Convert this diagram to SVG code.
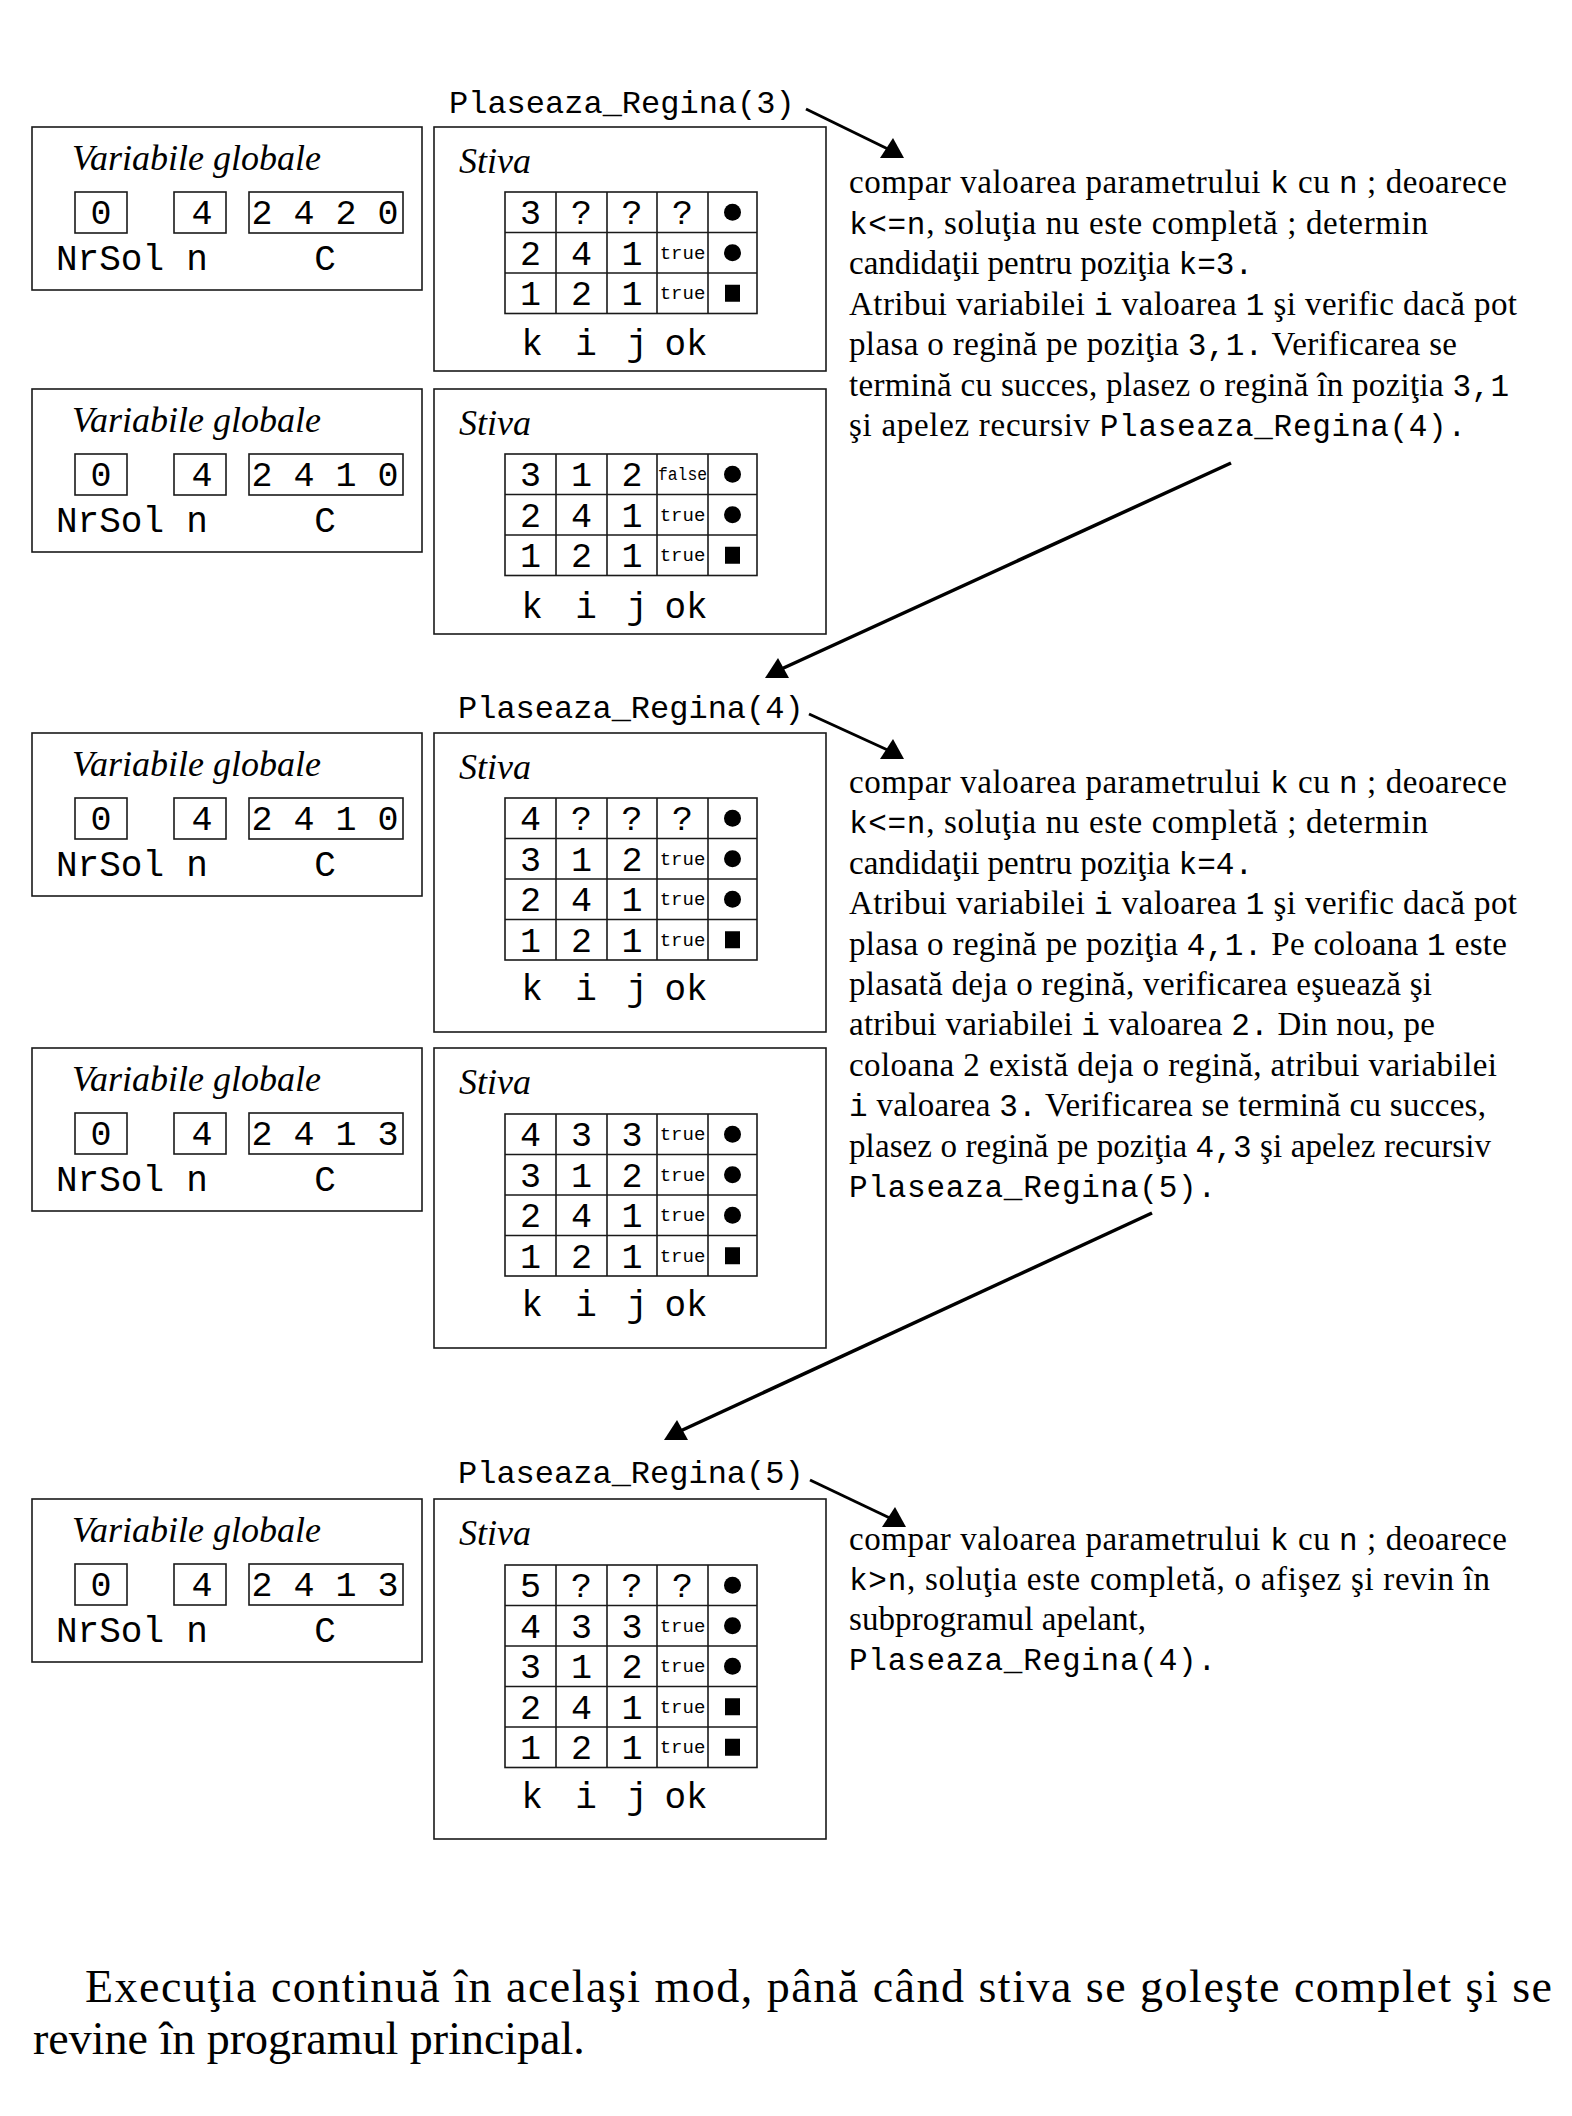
<svg xmlns="http://www.w3.org/2000/svg" width="1572" height="2116" viewBox="0 0 1572 2116">
<style>
.bg{fill:#fff}
.box{fill:none;stroke:#1a1a1a;stroke-width:1.6}
.grid{fill:none;stroke:#1a1a1a;stroke-width:1.6}
.it{font-family:"Liberation Serif",serif;font-style:italic;font-size:36px;fill:#000}
.mono{font-family:"Liberation Mono",monospace;fill:#000}
.dg{font-size:35px;text-anchor:middle}
.lbl{font-size:36px}
.ctr{text-anchor:middle}
.tr{font-size:19px;text-anchor:middle}
.call{font-size:32px}
.body{font-family:"Liberation Serif",serif;font-size:33px;fill:#000}
.m{font-family:"Liberation Mono",monospace;font-size:31px}
.para{font-family:"Liberation Serif",serif;font-size:46px;fill:#000}
.dot{fill:#000}
.arr{fill:none;stroke:#000;stroke-width:3;marker-end:url(#ah)}
.arr2{fill:none;stroke:#000;stroke-width:3.5;marker-end:url(#ah)}
</style>
<defs>
<marker id="ah" markerUnits="userSpaceOnUse" markerWidth="26" markerHeight="22" refX="12" refY="13" orient="0">
<path d="M0,20 L24,20 L13,0 Z" fill="#000"/>
</marker>
</defs>
<rect class="bg" x="0" y="0" width="1572" height="2116"/>

<!-- Panel 1 -->
<g id="panel1" transform="translate(0,127)">
 <g id="vars1">
  <rect class="box" x="32" y="0" width="390" height="163"/>
  <text class="it" x="72" y="43">Variabile globale</text>
  <rect class="box" x="75" y="65" width="52" height="41"/>
  <rect class="box" x="174" y="65" width="52" height="41"/>
  <rect class="box" x="249" y="65" width="154" height="41"/>
  <text class="mono dg" x="101" y="97">0</text>
  <text class="mono dg" x="202" y="97">4</text>
  <text class="mono dg" x="325" y="97">2 4 2 0</text>
  <text class="mono lbl" x="56" y="143">NrSol</text>
  <text class="mono lbl ctr" x="197" y="143">n</text>
  <text class="mono lbl ctr" x="325" y="143">C</text>
 </g>
 <g id="stack1">
  <rect class="box" x="434" y="0" width="392" height="244"/>
  <text class="it" x="459" y="46">Stiva</text>
  <rect class="grid" x="505" y="65" width="252" height="121.5"/>
  <path class="grid" d="M556 65V186.5M607 65V186.5M657 65V186.5M708 65V186.5M505 105.5H757M505 146H757"/>
  <text class="mono dg" x="530.5" y="97">3</text><text class="mono dg" x="581.5" y="97">?</text><text class="mono dg" x="632" y="97">?</text><text class="mono dg" x="682.5" y="97">?</text><circle class="dot" cx="732.5" cy="85.25" r="8.5"/>
  <text class="mono dg" x="530.5" y="137.5">2</text><text class="mono dg" x="581.5" y="137.5">4</text><text class="mono dg" x="632" y="137.5">1</text><text class="mono tr" x="682.5" y="131.5">true</text><circle class="dot" cx="732.5" cy="125.75" r="8.5"/>
  <text class="mono dg" x="530.5" y="178">1</text><text class="mono dg" x="581.5" y="178">2</text><text class="mono dg" x="632" y="178">1</text><text class="mono tr" x="682.5" y="172">true</text><rect class="dot" x="725" y="157.75" width="15" height="17"/>
  <text class="mono lbl ctr" x="532" y="228">k</text><text class="mono lbl ctr" x="586" y="228">i</text><text class="mono lbl ctr" x="637" y="228">j</text><text class="mono lbl ctr" x="686" y="228">ok</text>
 </g>
</g>

<!-- Panel 2 -->
<g id="panel2" transform="translate(0,389)">
 <g id="vars2">
  <rect class="box" x="32" y="0" width="390" height="163"/>
  <text class="it" x="72" y="43">Variabile globale</text>
  <rect class="box" x="75" y="65" width="52" height="41"/>
  <rect class="box" x="174" y="65" width="52" height="41"/>
  <rect class="box" x="249" y="65" width="154" height="41"/>
  <text class="mono dg" x="101" y="97">0</text>
  <text class="mono dg" x="202" y="97">4</text>
  <text class="mono dg" x="325" y="97">2 4 1 0</text>
  <text class="mono lbl" x="56" y="143">NrSol</text>
  <text class="mono lbl ctr" x="197" y="143">n</text>
  <text class="mono lbl ctr" x="325" y="143">C</text>
 </g>
 <g id="stack2">
  <rect class="box" x="434" y="0" width="392" height="245"/>
  <text class="it" x="459" y="46">Stiva</text>
  <rect class="grid" x="505" y="65" width="252" height="121.5"/>
  <path class="grid" d="M556 65V186.5M607 65V186.5M657 65V186.5M708 65V186.5M505 105.5H757M505 146H757"/>
  <text class="mono dg" x="530.5" y="97">3</text><text class="mono dg" x="581.5" y="97">1</text><text class="mono dg" x="632" y="97">2</text><text class="mono tr" x="682.5" y="91" textLength="49" lengthAdjust="spacingAndGlyphs">false</text><circle class="dot" cx="732.5" cy="85.25" r="8.5"/>
  <text class="mono dg" x="530.5" y="137.5">2</text><text class="mono dg" x="581.5" y="137.5">4</text><text class="mono dg" x="632" y="137.5">1</text><text class="mono tr" x="682.5" y="131.5">true</text><circle class="dot" cx="732.5" cy="125.75" r="8.5"/>
  <text class="mono dg" x="530.5" y="178">1</text><text class="mono dg" x="581.5" y="178">2</text><text class="mono dg" x="632" y="178">1</text><text class="mono tr" x="682.5" y="172">true</text><rect class="dot" x="725" y="157.75" width="15" height="17"/>
  <text class="mono lbl ctr" x="532" y="229">k</text><text class="mono lbl ctr" x="586" y="229">i</text><text class="mono lbl ctr" x="637" y="229">j</text><text class="mono lbl ctr" x="686" y="229">ok</text>
 </g>
</g>

<!-- Panel 3 -->
<g id="panel3" transform="translate(0,733)">
 <g id="vars3">
  <rect class="box" x="32" y="0" width="390" height="163"/>
  <text class="it" x="72" y="43">Variabile globale</text>
  <rect class="box" x="75" y="65" width="52" height="41"/>
  <rect class="box" x="174" y="65" width="52" height="41"/>
  <rect class="box" x="249" y="65" width="154" height="41"/>
  <text class="mono dg" x="101" y="97">0</text>
  <text class="mono dg" x="202" y="97">4</text>
  <text class="mono dg" x="325" y="97">2 4 1 0</text>
  <text class="mono lbl" x="56" y="143">NrSol</text>
  <text class="mono lbl ctr" x="197" y="143">n</text>
  <text class="mono lbl ctr" x="325" y="143">C</text>
 </g>
 <g id="stack3">
  <rect class="box" x="434" y="0" width="392" height="299"/>
  <text class="it" x="459" y="46">Stiva</text>
  <rect class="grid" x="505" y="65" width="252" height="162"/>
  <path class="grid" d="M556 65V227M607 65V227M657 65V227M708 65V227M505 105.5H757M505 146H757M505 186.5H757"/>
  <text class="mono dg" x="530.5" y="97">4</text><text class="mono dg" x="581.5" y="97">?</text><text class="mono dg" x="632" y="97">?</text><text class="mono dg" x="682.5" y="97">?</text><circle class="dot" cx="732.5" cy="85.25" r="8.5"/>
  <text class="mono dg" x="530.5" y="137.5">3</text><text class="mono dg" x="581.5" y="137.5">1</text><text class="mono dg" x="632" y="137.5">2</text><text class="mono tr" x="682.5" y="131.5">true</text><circle class="dot" cx="732.5" cy="125.75" r="8.5"/>
  <text class="mono dg" x="530.5" y="178">2</text><text class="mono dg" x="581.5" y="178">4</text><text class="mono dg" x="632" y="178">1</text><text class="mono tr" x="682.5" y="172">true</text><circle class="dot" cx="732.5" cy="166.25" r="8.5"/>
  <text class="mono dg" x="530.5" y="218.5">1</text><text class="mono dg" x="581.5" y="218.5">2</text><text class="mono dg" x="632" y="218.5">1</text><text class="mono tr" x="682.5" y="212.5">true</text><rect class="dot" x="725" y="198.25" width="15" height="17"/>
  <text class="mono lbl ctr" x="532" y="267">k</text><text class="mono lbl ctr" x="586" y="267">i</text><text class="mono lbl ctr" x="637" y="267">j</text><text class="mono lbl ctr" x="686" y="267">ok</text>
 </g>
</g>

<!-- Panel 4 -->
<g id="panel4" transform="translate(0,1048)">
 <g id="vars4">
  <rect class="box" x="32" y="0" width="390" height="163"/>
  <text class="it" x="72" y="43">Variabile globale</text>
  <rect class="box" x="75" y="65" width="52" height="41"/>
  <rect class="box" x="174" y="65" width="52" height="41"/>
  <rect class="box" x="249" y="65" width="154" height="41"/>
  <text class="mono dg" x="101" y="97">0</text>
  <text class="mono dg" x="202" y="97">4</text>
  <text class="mono dg" x="325" y="97">2 4 1 3</text>
  <text class="mono lbl" x="56" y="143">NrSol</text>
  <text class="mono lbl ctr" x="197" y="143">n</text>
  <text class="mono lbl ctr" x="325" y="143">C</text>
 </g>
 <g id="stack4">
  <rect class="box" x="434" y="0" width="392" height="300"/>
  <text class="it" x="459" y="46">Stiva</text>
  <rect class="grid" x="505" y="66" width="252" height="162"/>
  <path class="grid" d="M556 66V228M607 66V228M657 66V228M708 66V228M505 106.5H757M505 147H757M505 187.5H757"/>
  <text class="mono dg" x="530.5" y="98">4</text><text class="mono dg" x="581.5" y="98">3</text><text class="mono dg" x="632" y="98">3</text><text class="mono tr" x="682.5" y="92">true</text><circle class="dot" cx="732.5" cy="86.25" r="8.5"/>
  <text class="mono dg" x="530.5" y="138.5">3</text><text class="mono dg" x="581.5" y="138.5">1</text><text class="mono dg" x="632" y="138.5">2</text><text class="mono tr" x="682.5" y="132.5">true</text><circle class="dot" cx="732.5" cy="126.75" r="8.5"/>
  <text class="mono dg" x="530.5" y="179">2</text><text class="mono dg" x="581.5" y="179">4</text><text class="mono dg" x="632" y="179">1</text><text class="mono tr" x="682.5" y="173">true</text><circle class="dot" cx="732.5" cy="167.25" r="8.5"/>
  <text class="mono dg" x="530.5" y="219.5">1</text><text class="mono dg" x="581.5" y="219.5">2</text><text class="mono dg" x="632" y="219.5">1</text><text class="mono tr" x="682.5" y="213.5">true</text><rect class="dot" x="725" y="199.25" width="15" height="17"/>
  <text class="mono lbl ctr" x="532" y="268">k</text><text class="mono lbl ctr" x="586" y="268">i</text><text class="mono lbl ctr" x="637" y="268">j</text><text class="mono lbl ctr" x="686" y="268">ok</text>
 </g>
</g>

<!-- Panel 5 -->
<g id="panel5" transform="translate(0,1499)">
 <g id="vars5">
  <rect class="box" x="32" y="0" width="390" height="163"/>
  <text class="it" x="72" y="43">Variabile globale</text>
  <rect class="box" x="75" y="65" width="52" height="41"/>
  <rect class="box" x="174" y="65" width="52" height="41"/>
  <rect class="box" x="249" y="65" width="154" height="41"/>
  <text class="mono dg" x="101" y="97">0</text>
  <text class="mono dg" x="202" y="97">4</text>
  <text class="mono dg" x="325" y="97">2 4 1 3</text>
  <text class="mono lbl" x="56" y="143">NrSol</text>
  <text class="mono lbl ctr" x="197" y="143">n</text>
  <text class="mono lbl ctr" x="325" y="143">C</text>
 </g>
 <g id="stack5">
  <rect class="box" x="434" y="0" width="392" height="340"/>
  <text class="it" x="459" y="46">Stiva</text>
  <rect class="grid" x="505" y="66" width="252" height="202.5"/>
  <path class="grid" d="M556 66V268.5M607 66V268.5M657 66V268.5M708 66V268.5M505 106.5H757M505 147H757M505 187.5H757M505 228H757"/>
  <text class="mono dg" x="530.5" y="98">5</text><text class="mono dg" x="581.5" y="98">?</text><text class="mono dg" x="632" y="98">?</text><text class="mono dg" x="682.5" y="98">?</text><circle class="dot" cx="732.5" cy="86.25" r="8.5"/>
  <text class="mono dg" x="530.5" y="138.5">4</text><text class="mono dg" x="581.5" y="138.5">3</text><text class="mono dg" x="632" y="138.5">3</text><text class="mono tr" x="682.5" y="132.5">true</text><circle class="dot" cx="732.5" cy="126.75" r="8.5"/>
  <text class="mono dg" x="530.5" y="179">3</text><text class="mono dg" x="581.5" y="179">1</text><text class="mono dg" x="632" y="179">2</text><text class="mono tr" x="682.5" y="173">true</text><circle class="dot" cx="732.5" cy="167.25" r="8.5"/>
  <text class="mono dg" x="530.5" y="219.5">2</text><text class="mono dg" x="581.5" y="219.5">4</text><text class="mono dg" x="632" y="219.5">1</text><text class="mono tr" x="682.5" y="213.5">true</text><rect class="dot" x="725" y="199.25" width="15" height="17"/>
  <text class="mono dg" x="530.5" y="260">1</text><text class="mono dg" x="581.5" y="260">2</text><text class="mono dg" x="632" y="260">1</text><text class="mono tr" x="682.5" y="254">true</text><rect class="dot" x="725" y="239.75" width="15" height="17"/>
  <text class="mono lbl ctr" x="532" y="309">k</text><text class="mono lbl ctr" x="586" y="309">i</text><text class="mono lbl ctr" x="637" y="309">j</text><text class="mono lbl ctr" x="686" y="309">ok</text>
 </g>
</g>

<!-- Call labels -->
<g id="calls">
 <text class="mono call" x="449" y="113">Plaseaza_Regina(3)</text>
 <text class="mono call" x="458" y="718">Plaseaza_Regina(4)</text>
 <text class="mono call" x="458" y="1483">Plaseaza_Regina(5)</text>
</g>

<!-- Explanations -->
<g id="text1">
 <text class="body" x="849" y="193" textLength="658" lengthAdjust="spacing">compar valoarea parametrului <tspan class="m">k</tspan> cu <tspan class="m">n</tspan> ;  deoarece</text>
 <text class="body" x="849" y="233.5" textLength="579" lengthAdjust="spacing"><tspan class="m">k&lt;=n</tspan>, soluţia nu este completă ;  determin</text>
 <text class="body" x="849" y="274" textLength="404" lengthAdjust="spacing">candidaţii pentru poziţia <tspan class="m">k=3.</tspan></text>
 <text class="body" x="849" y="314.5" textLength="668" lengthAdjust="spacing">Atribui variabilei <tspan class="m">i</tspan> valoarea <tspan class="m">1</tspan> şi verific dacă pot</text>
 <text class="body" x="849" y="355" textLength="608" lengthAdjust="spacing">plasa o regină pe poziţia <tspan class="m">3,1.</tspan>  Verificarea se</text>
 <text class="body" x="849" y="395.5" textLength="660" lengthAdjust="spacing">termină cu succes, plasez o regină în poziţia <tspan class="m">3,1</tspan></text>
 <text class="body" x="849" y="436" textLength="617" lengthAdjust="spacing">şi apelez recursiv <tspan class="m">Plaseaza_Regina(4).</tspan></text>
</g>
<g id="text3">
 <text class="body" x="849" y="793" textLength="658" lengthAdjust="spacing">compar valoarea parametrului <tspan class="m">k</tspan> cu <tspan class="m">n</tspan> ;  deoarece</text>
 <text class="body" x="849" y="833.4" textLength="579" lengthAdjust="spacing"><tspan class="m">k&lt;=n</tspan>, soluţia nu este completă ;  determin</text>
 <text class="body" x="849" y="873.8" textLength="404" lengthAdjust="spacing">candidaţii pentru poziţia <tspan class="m">k=4.</tspan></text>
 <text class="body" x="849" y="914.2" textLength="668" lengthAdjust="spacing">Atribui variabilei <tspan class="m">i</tspan> valoarea <tspan class="m">1</tspan> şi verific dacă pot</text>
 <text class="body" x="849" y="954.6" textLength="658" lengthAdjust="spacing">plasa o regină pe poziţia <tspan class="m">4,1.</tspan>  Pe coloana <tspan class="m">1</tspan> este</text>
 <text class="body" x="849" y="995" textLength="583" lengthAdjust="spacing">plasată deja o regină, verificarea eşuează şi</text>
 <text class="body" x="849" y="1035.4" textLength="586" lengthAdjust="spacing">atribui variabilei <tspan class="m">i</tspan> valoarea <tspan class="m">2.</tspan> Din nou, pe</text>
 <text class="body" x="849" y="1075.8" textLength="648" lengthAdjust="spacing">coloana 2 există deja o regină, atribui variabilei</text>
 <text class="body" x="849" y="1116.2" textLength="637" lengthAdjust="spacing"><tspan class="m">i</tspan> valoarea <tspan class="m">3.</tspan> Verificarea se termină cu succes,</text>
 <text class="body" x="849" y="1156.6" textLength="642" lengthAdjust="spacing">plasez o regină pe poziţia <tspan class="m">4,3</tspan> şi apelez recursiv</text>
 <text class="body" x="849" y="1197" textLength="367" lengthAdjust="spacing"><tspan class="m">Plaseaza_Regina(5).</tspan></text>
</g>
<g id="text5">
 <text class="body" x="849" y="1550" textLength="658" lengthAdjust="spacing">compar valoarea parametrului <tspan class="m">k</tspan> cu <tspan class="m">n</tspan> ;  deoarece</text>
 <text class="body" x="849" y="1590" textLength="641" lengthAdjust="spacing"><tspan class="m">k&gt;n</tspan>, soluţia  este completă, o afişez şi revin în</text>
 <text class="body" x="849" y="1630" textLength="297" lengthAdjust="spacing">subprogramul apelant,</text>
 <text class="body" x="849" y="1670" textLength="367" lengthAdjust="spacing"><tspan class="m">Plaseaza_Regina(4).</tspan></text>
</g>

<!-- Connectors -->
<g id="connectors">
 <path class="arr" d="M806 109L892 151"/>
 <path class="arr" d="M809 714L892 752"/>
 <path class="arr" d="M810 1480L894 1520"/>
 <path class="arr2" d="M1231 463L777 671"/>
 <path class="arr2" d="M1152 1213L676 1433"/>
</g>

<!-- Closing paragraph -->
<g id="closing">
 <text class="para" x="85" y="2002" textLength="1467" lengthAdjust="spacing">Execuţia continuă în acelaşi mod, până când stiva se goleşte complet şi se</text>
 <text class="para" x="33" y="2054">revine în programul principal.</text>
</g>
</svg>
